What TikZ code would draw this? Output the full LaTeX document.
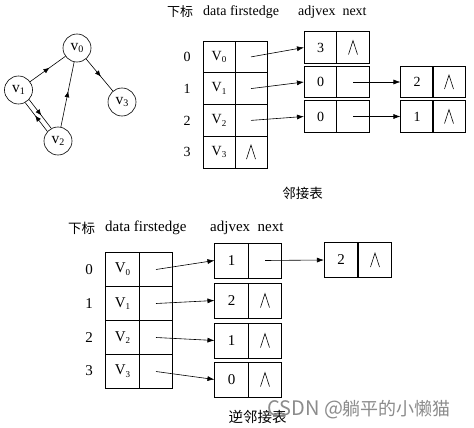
\documentclass[tikz,border=0pt]{standalone}
\usepackage{fontspec}
\setmainfont{Liberation Serif}
\newfontfamily\cjk{Noto Sans CJK SC}
\usetikzlibrary{arrows.meta,decorations.markings,calc}
\newcommand{\Vsub}[2]{#1\raisebox{-0.4ex}{\fontsize{9}{9}\selectfont #2}}
\newcommand{\vsub}[2]{#1\raisebox{-0.4ex}{\fontsize{10}{10}\selectfont #2}}
\tikzset{
  vert/.style={circle,draw,minimum size=28pt,inner sep=0pt,line width=0.6pt,font=\fontsize{15.5}{15.5}\selectfont},
  midarrow/.style={line width=0.6pt,postaction={decorate},
    decoration={markings,mark=at position 0.55 with {\arrow{Latex[length=6pt,width=5pt]}}}},
  ptr/.style={line width=0.6pt,-{Latex[length=7pt,width=5pt]}},
  cellT/.style={draw,rectangle,minimum width=32pt,minimum height=31.75pt,inner sep=0pt,line width=0.6pt},
  edgeT/.style={draw,rectangle,minimum width=32.5pt,minimum height=31.5pt,inner sep=0pt,line width=0.6pt},
  cellB/.style={draw,rectangle,minimum width=33.5pt,minimum height=34pt,inner sep=0pt,line width=0.6pt,font=\fontsize{15}{15}\selectfont},
  edgeB/.style={draw,rectangle,minimum width=33.5pt,minimum height=35pt,inner sep=0pt,line width=0.6pt,font=\fontsize{15}{15}\selectfont},
  txt/.style={inner sep=0pt},
  nilmark/.pic={\draw[line width=0.6pt] (-4.5pt,-7pt) -- (0pt,7pt) -- (4.5pt,-7pt);}
}
\begin{document}
\begin{tikzpicture}[x=1pt,y=-1pt,font=\fontsize{14}{16}\selectfont]
\useasboundingbox[fill=white] (0,0) rectangle (474,428);

% ---------- graph ----------
\node[vert] (v0) at (77,48) {\vsub{v}{0}};
\node[vert] (v1) at (18.5,90) {\vsub{v}{1}};
\node[vert] (v2) at (58,141) {\vsub{v}{2}};
\node[vert] (v3) at (122,102) {\vsub{v}{3}};
\draw[midarrow] (v1) -- (v0);
\draw[midarrow] (v2) -- (v0);
\draw[midarrow] (v0) -- (v3);
\draw[midarrow] (v1.-42) -- (v2.118);
\draw[midarrow] (v2.138) -- (v1.-62);

% ---------- adjacency list (top) ----------
\node[txt,anchor=west] (th1) at (167,12) {\cjk\fontsize{13}{13}\selectfont 下标};
\node[txt,anchor=west] (th2) at (203,12) {data firstedge};
\node[txt,anchor=west] (th3) at (298,12) {adjvex\ \ next};

\node[txt] (ti0) at (187,56.9) {0};
\node[txt] (ti1) at (187,88.6) {1};
\node[txt] (ti2) at (187,120.4) {2};
\node[txt] (ti3) at (187,152.1) {3};

\node[cellT] (td0) at (219,56.9) {\Vsub{V}{0}};
\node[cellT] (tp0) at (251,56.9) {};
\node[cellT] (td1) at (219,88.6) {\Vsub{V}{1}};
\node[cellT] (tp1) at (251,88.6) {};
\node[cellT] (td2) at (219,120.4) {\Vsub{V}{2}};
\node[cellT] (tp2) at (251,120.4) {};
\node[cellT] (td3) at (219,152.1) {\Vsub{V}{3}};
\node[cellT] (tp3) at (251,152.1) {};
\pic at (tp3) {nilmark};

\node[edgeT] (ta0) at (320.5,47.5) {3};
\node[edgeT] (tn0) at (353,47.5) {};
\pic at (tn0) {nilmark};
\node[edgeT] (ta1) at (320.5,82) {0};
\node[edgeT] (tn1) at (353,82) {};
\node[edgeT] (ta2) at (320.5,116.5) {0};
\node[edgeT] (tn2) at (353,116.5) {};
\node[edgeT] (tb1) at (417,82) {2};
\node[edgeT] (tm1) at (449,82) {};
\pic at (tm1) {nilmark};
\node[edgeT] (tb2) at (417,116.5) {1};
\node[edgeT] (tm2) at (449,116.5) {};
\pic at (tm2) {nilmark};

\draw[ptr] (tp0.center) -- (ta0.west);
\draw[ptr] (tp1.center) -- (ta1.west);
\draw[ptr] (tp2.center) -- (ta2.west);
\draw[ptr] (tn1.center) -- (tb1.west);
\draw[ptr] (tn2.center) -- (tb2.west);

\node[txt] (tcap) at (302.5,193) {\cjk\fontsize{13.5}{14}\selectfont 邻接表};

% ---------- inverse adjacency list (bottom) ----------
\node[txt,anchor=west] (bh1) at (68,228) {\cjk\fontsize{13.5}{14}\selectfont 下标};
\node[txt,anchor=west] (bh2) at (105,228) {\fontsize{15}{15}\selectfont data firstedge};
\node[txt,anchor=west] (bh3) at (210,228) {\fontsize{15}{15}\selectfont adjvex\ \ next};

\node[txt,font=\fontsize{15}{15}\selectfont] (bi0) at (89,270) {0};
\node[txt,font=\fontsize{15}{15}\selectfont] (bi1) at (89,304) {1};
\node[txt,font=\fontsize{15}{15}\selectfont] (bi2) at (89,337.5) {2};
\node[txt,font=\fontsize{15}{15}\selectfont] (bi3) at (89,371) {3};

\node[cellB] (bd0) at (122.5,269.5) {\Vsub{V}{0}};
\node[cellB] (bp0) at (156,269.5) {};
\node[cellB] (bd1) at (122.5,303.5) {\Vsub{V}{1}};
\node[cellB] (bp1) at (156,303.5) {};
\node[cellB] (bd2) at (122.5,337.5) {\Vsub{V}{2}};
\node[cellB] (bp2) at (156,337.5) {};
\node[cellB] (bd3) at (122.5,371.5) {\Vsub{V}{3}};
\node[cellB] (bp3) at (156,371.5) {};

\node[edgeB] (ba0) at (231.5,260.5) {1};
\node[edgeB] (bn0) at (265,260.5) {};
\node[edgeB] (ba1) at (231.5,300.5) {2};
\node[edgeB] (bn1) at (265,300.5) {};
\pic at (bn1) {nilmark};
\node[edgeB] (ba2) at (231.5,340.5) {1};
\node[edgeB] (bn2) at (265,340.5) {};
\pic at (bn2) {nilmark};
\node[edgeB] (ba3) at (231.5,379.5) {0};
\node[edgeB] (bn3) at (265,379.5) {};
\pic at (bn3) {nilmark};
\node[edgeB] (bb0) at (341,260) {2};
\node[edgeB] (bm0) at (375,260) {};
\pic at (bm0) {nilmark};

\draw[ptr] (bp0.center) -- (ba0.west);
\draw[ptr] (bp1.center) -- (ba1.west);
\draw[ptr] (bp2.center) -- (ba2.west);
\draw[ptr] (bp3.center) -- (ba3.west);
\draw[ptr] (bn0.center) -- (bb0.west);

\node[txt] (bcap) at (257.5,417) {\cjk\fontsize{14.5}{15}\selectfont 逆邻接表};

% watermark
\node[txt,anchor=west,text=black!45] (wm) at (267,410) {\cjk{\fontsize{20}{20}\selectfont CSDN @}{\fontsize{18}{18}\selectfont 躺平的小懒猫}};
\end{tikzpicture}
\end{document}
